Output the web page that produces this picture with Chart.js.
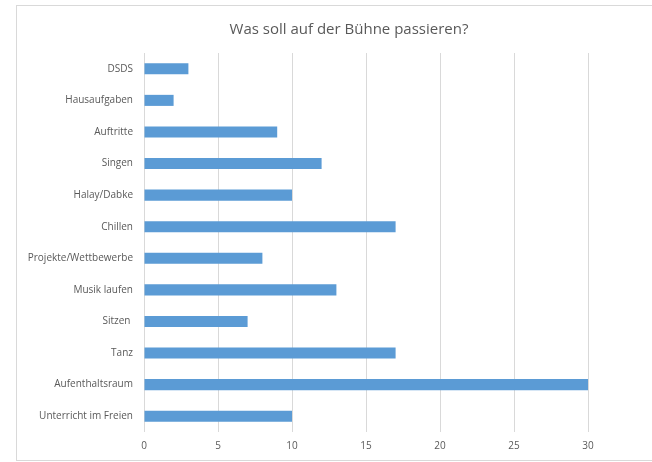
<!DOCTYPE html>
<html>
<head>
<meta charset="utf-8">
<script src="https://cdn.jsdelivr.net/npm/chart.js@4/dist/chart.umd.min.js"></script>
<style>
  html, body { margin: 0; padding: 0; background: #fff; overflow: hidden; }
  #box { position: absolute; left: 16px; top: 5px; width: 666px; height: 454px; border: 1px solid #d9d9d9; }
  #box canvas { display: block; }
</style>
</head>
<body>
<div id="box"><canvas id="chart" width="666" height="454"></canvas></div>
<script>
const titleText = 'Was soll auf der Bühne passieren?';
const categories = ['DSDS', 'Hausaufgaben', 'Auftritte', 'Singen', 'Halay/Dabke', 'Chillen',
  'Projekte/Wettbewerbe', 'Musik laufen', 'Sitzen ', 'Tanz', 'Aufenthaltsraum', 'Unterricht im Freien'];
const values = [3, 2, 9, 12, 10, 17, 8, 13, 7, 17, 30, 10];
const xTicks = [0, 5, 10, 15, 20, 25, 30];

const fontFam = '"Open Sans", "Noto Sans", sans-serif';

// title drawn at a fixed spot, centred over the (cropped) chart box
const titlePlugin = {
  id: 'fixedTitle',
  afterDraw(chart) {
    const ctx = chart.ctx;
    ctx.save();
    ctx.font = '15px ' + fontFam;
    ctx.fillStyle = '#595959';
    ctx.textAlign = 'center';
    ctx.textBaseline = 'middle';
    ctx.fillText(titleText, 332, 24);
    ctx.restore();
  }
};

new Chart(document.getElementById('chart'), {
  type: 'bar',
  data: {
    labels: categories,
    datasets: [{
      data: values,
      backgroundColor: '#5b9bd5',
      categoryPercentage: 1,
      barPercentage: 0.35
    }]
  },
  options: {
    indexAxis: 'y',
    responsive: false,
    animation: false,
    layout: { padding: { top: 47, right: 95, bottom: 0, left: 0 } },
    plugins: {
      legend: { display: false },
      tooltip: { enabled: false },
      title: { display: false }
    },
    scales: {
      x: {
        min: 0,
        max: 30,
        afterBuildTicks(scale) { scale.ticks = xTicks.map(v => ({ value: v })); },
        afterFit(scale) { scale.height = 28; },
        grid: { color: '#d9d9d9', lineWidth: 1, drawTicks: false },
        border: { display: false },
        ticks: { color: '#595959', font: { family: fontFam, size: 10 }, padding: 8 }
      },
      y: {
        afterFit(scale) { scale.width = 127; },
        grid: { display: false, drawTicks: false },
        border: { display: false },
        ticks: { color: '#595959', font: { family: fontFam, size: 10 }, padding: 11, autoSkip: false }
      }
    }
  },
  plugins: [titlePlugin]
});
</script>
</body>
</html>
